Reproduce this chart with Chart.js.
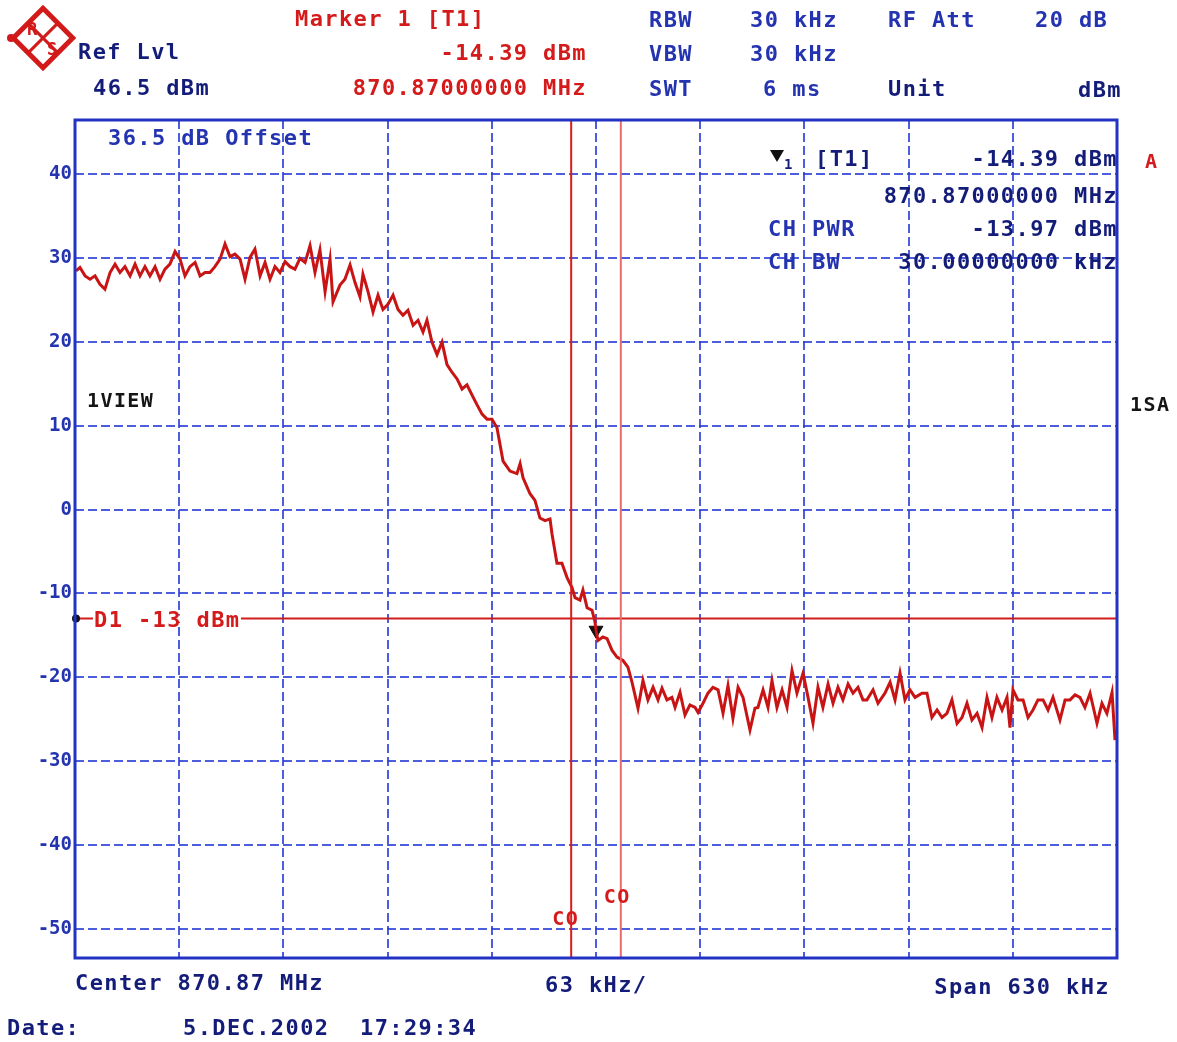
<!DOCTYPE html>
<html>
<head>
<meta charset="utf-8">
<title>Spectrum - 870.87 MHz</title>
<script src="https://cdn.jsdelivr.net/npm/chart.js@4.4.1/dist/chart.umd.min.js"></script>
<style>
  html, body { margin: 0; padding: 0; background: #fff; }
  #wrap { width: 1177px; height: 1042px; }
</style>
</head>
<body>
<div id="wrap"><canvas id="spec" width="1177" height="1042"></canvas></div>
<script>
// sweep settings
const centerMHz = 870.87;
const spanKHz = 630;
const divKHz = 63;
const refLevel = 46.5;
const rangeDb = 100;

// marker / channel power readout
const markerOffsetKHz = 0;
const markerLevel = -14.39;
const chPower = -13.97;
const chBwKHz = 30;
const d1Level = -13;

// axis ticks
const yTicks = [40, 30, 20, 10, 0, -10, -20, -30, -40, -50];
const xTicks = [-315, -252, -189, -126, -63, 0, 63, 126, 189, 252, 315];

// trace: offset from center (kHz) and level (dBm)
const freqOffsetKHz = [
  -314.4, -312.0, -308.9, -305.9, -302.9, -299.9, -296.9, -293.8, -290.8, -287.8,
  -284.8, -281.7, -278.7, -275.7, -272.7, -269.7, -266.6, -263.6, -260.6, -257.6,
  -254.5, -251.5, -248.5, -245.5, -242.4, -239.4, -236.4, -233.4, -230.4, -227.3,
  -224.3, -221.3, -218.3, -215.2, -212.2, -209.2, -206.2, -203.1, -200.1, -197.1,
  -194.1, -191.1, -188.0, -185.0, -182.0, -179.0, -175.9, -172.9, -169.9, -166.9,
  -163.8, -160.8, -159.0, -154.8, -151.8, -148.7, -145.7, -142.7, -140.9, -137.8,
  -134.8, -131.8, -128.8, -125.8, -122.7, -119.7, -116.7, -113.7, -110.6, -107.6,
  -104.6, -102.2, -99.2, -96.1, -93.1, -90.1, -87.1, -84.0, -81.0, -78.0,
  -75.0, -71.9, -68.9, -65.9, -62.9, -59.9, -56.2, -52.0, -47.8, -45.9,
  -44.1, -39.9, -36.9, -33.9, -30.8, -27.8, -26.6, -23.6, -20.6, -17.5,
  -14.5, -12.7, -9.7, -7.9, -5.4, -2.4, -0.6, 0.0, 1.2, 4.2,
  6.7, 9.7, 12.7, 16.3, 19.3, 21.8, 25.4, 28.4, 31.4, 34.5,
  37.5, 39.9, 42.9, 45.9, 47.8, 50.8, 53.8, 56.8, 59.9, 61.7,
  64.7, 67.7, 70.7, 73.8, 76.8, 79.8, 82.8, 85.9, 88.9, 93.1,
  96.1, 97.9, 101.0, 104.0, 106.4, 109.4, 112.5, 115.5, 118.5, 121.5,
  125.2, 128.2, 131.2, 134.2, 137.2, 140.3, 143.3, 146.3, 149.3, 152.4,
  155.4, 158.4, 161.4, 163.8, 167.5, 170.5, 174.7, 177.8, 180.8, 183.8,
  186.8, 189.8, 192.9, 197.1, 200.1, 203.1, 206.2, 209.2, 212.2, 215.2,
  218.3, 221.3, 224.3, 227.3, 230.4, 233.4, 236.4, 239.4, 242.4, 245.5,
  248.5, 250.3, 252.1, 255.1, 258.2, 261.2, 264.2, 267.2, 270.3, 273.3,
  276.3, 280.5, 283.6, 286.6, 289.6, 292.6, 295.6, 298.7, 302.9, 305.9,
  308.9, 312.0, 313.8
];
const levelDbm = [
  28.5, 28.9, 27.9, 27.5, 27.9, 26.9, 26.3, 28.3, 29.3, 28.3,
  29.0, 27.9, 29.3, 27.9, 29.0, 27.9, 29.0, 27.5, 28.7, 29.3,
  30.8, 29.9, 27.9, 29.0, 29.5, 27.9, 28.3, 28.3, 29.0, 29.9,
  31.7, 30.2, 30.5, 29.9, 27.5, 30.1, 31.1, 27.9, 29.5, 27.5,
  29.0, 28.3, 29.6, 29.0, 28.7, 30.0, 29.5, 31.5, 28.3, 31.0,
  26.0, 29.9, 24.8, 26.8, 27.5, 29.2, 27.1, 25.4, 28.1, 26.0,
  23.6, 25.6, 23.9, 24.5, 25.6, 23.9, 23.2, 23.8, 22.0, 22.6,
  21.2, 22.6, 20.0, 18.5, 20.0, 17.3, 16.4, 15.6, 14.4, 14.9,
  13.7, 12.5, 11.4, 10.8, 10.8, 9.8, 5.8, 4.6, 4.3, 5.5,
  3.8, 1.9, 1.1, -1.0, -1.3, -1.1, -2.9, -6.4, -6.4, -8.1,
  -9.3, -10.5, -10.8, -9.6, -11.7, -12.0, -13.4, -14.39, -15.6, -15.2,
  -15.4, -16.8, -17.6, -18.0, -18.8, -20.6, -23.7, -20.4, -22.7, -21.2,
  -22.7, -21.3, -22.7, -22.4, -23.6, -21.8, -24.5, -23.3, -23.6, -24.2,
  -23.1, -21.9, -21.2, -21.5, -24.3, -21.0, -24.9, -21.2, -22.4, -26.3,
  -23.7, -23.6, -21.5, -23.6, -20.4, -23.6, -21.5, -23.6, -19.2, -21.9,
  -19.5, -22.4, -25.5, -21.2, -23.6, -20.8, -23.1, -21.2, -22.7, -20.8,
  -21.9, -21.2, -22.7, -22.7, -21.5, -23.1, -21.9, -20.6, -22.7, -19.5,
  -22.7, -21.5, -22.4, -21.9, -21.9, -24.8, -23.9, -24.8, -24.3, -22.7,
  -25.5, -24.8, -23.1, -25.1, -24.3, -26.0, -22.4, -24.8, -22.4, -23.9,
  -22.4, -26.0, -21.5, -22.7, -22.7, -24.8, -23.9, -22.7, -22.7, -23.9,
  -22.4, -25.1, -22.7, -22.7, -22.1, -22.4, -23.6, -21.9, -25.5, -23.1,
  -24.3, -21.8, -27.5
];

const BLUE_GRID = 'rgba(45, 65, 215, 0.85)';
const BLUE_FRAME = '#2233c4';
const TRACE_RED = '#c81414';
const TXT_RED = '#d41a1a';
const TXT_NAVY = '#141c7a';
const TXT_BLUE = '#2433b0';
const MONO = '"DejaVu Sans Mono", "Liberation Mono", monospace';

const tracePoints = freqOffsetKHz.map((f, i) => ({ x: f, y: levelDbm[i] }));
const yMin = refLevel - rangeDb;
const halfSpan = spanKHz / 2;

function vline(x, color, width) {
    return {
        data: [{ x: x, y: yMin }, { x: x, y: refLevel }],
        borderColor: color,
        borderWidth: width,
        pointRadius: 0,
        fill: false,
    };
}

function text(ctx, str, x, y, color, align, size) {
    ctx.save();
    ctx.font = 'bold ' + (size || 22) + 'px ' + MONO;
    ctx.letterSpacing = '1.4px';
    ctx.fillStyle = color;
    ctx.textAlign = align || 'left';
    ctx.textBaseline = 'alphabetic';
    ctx.fillText(str, x, y);
    ctx.restore();
}

function drawLogo(ctx) {
    ctx.save();
    ctx.translate(43, 38);
    ctx.rotate(Math.PI / 4);
    ctx.strokeStyle = '#d21a1a';
    ctx.lineWidth = 5;
    ctx.strokeRect(-21, -21, 42, 42);
    ctx.lineWidth = 3;
    ctx.beginPath();
    ctx.moveTo(-21, 0); ctx.lineTo(21, 0);
    ctx.moveTo(0, -21); ctx.lineTo(0, 21);
    ctx.stroke();
    ctx.restore();
    ctx.save();
    ctx.fillStyle = '#d21a1a';
    ctx.font = 'bold 17px ' + MONO;
    ctx.fillText('R', 27, 35);
    ctx.fillText('S', 47, 55);
    ctx.beginPath();
    ctx.arc(11, 38, 4, 0, Math.PI * 2);
    ctx.fill();
    ctx.restore();
}

const annotations = {
    id: 'annotations',
    afterDatasetsDraw(chart) {
        const { ctx, chartArea, scales } = chart;
        // display line D1 label sits on the line itself
        const yD1 = scales.y.getPixelForValue(d1Level);
        ctx.save();
        ctx.fillStyle = '#fff';
        ctx.fillRect(chartArea.left + 18, yD1 - 3, 148, 6);
        ctx.fillStyle = '#111';
        ctx.beginPath();
        ctx.arc(chartArea.left + 1, yD1, 4, 0, Math.PI * 2);
        ctx.fill();
        ctx.restore();
        text(ctx, 'D1 ' + d1Level + ' dBm', chartArea.left + 19, yD1 + 8, TXT_RED);

        // channel edge labels
        const coL = scales.x.getPixelForValue(-chBwKHz / 2);
        const coR = scales.x.getPixelForValue(chBwKHz / 2);
        text(ctx, 'CO', coL - 19, 925, TXT_RED, 'left', 20);
        text(ctx, 'CO', coR - 17, 903, TXT_RED, 'left', 20);
    },
    afterDraw(chart) {
        const { ctx, chartArea } = chart;
        ctx.save();
        ctx.strokeStyle = BLUE_FRAME;
        ctx.lineWidth = 3;
        ctx.strokeRect(chartArea.left, chartArea.top, chartArea.right - chartArea.left, chartArea.bottom - chartArea.top);
        ctx.restore();

        drawLogo(ctx);

        // header block
        text(ctx, 'Marker 1 [T1]', 295, 26, TXT_RED);
        text(ctx, 'Ref Lvl', 78, 59, TXT_NAVY);
        text(ctx, markerLevel.toFixed(2) + ' dBm', 587, 60, TXT_RED, 'right');
        text(ctx, refLevel.toFixed(1) + ' dBm', 93, 95, TXT_NAVY);
        text(ctx, (centerMHz + markerOffsetKHz / 1000).toFixed(8) + ' MHz', 587, 95, TXT_RED, 'right');
        text(ctx, 'RBW', 649, 27, TXT_BLUE);
        text(ctx, '30 kHz', 750, 27, TXT_BLUE);
        text(ctx, 'RF Att', 888, 27, TXT_BLUE);
        text(ctx, '20 dB', 1035, 27, TXT_BLUE);
        text(ctx, 'VBW', 649, 61, TXT_BLUE);
        text(ctx, '30 kHz', 750, 61, TXT_BLUE);
        text(ctx, 'SWT', 649, 96, TXT_BLUE);
        text(ctx, '6 ms', 763, 96, TXT_BLUE);
        text(ctx, 'Unit', 888, 96, TXT_NAVY);
        text(ctx, 'dBm', 1122, 97, TXT_NAVY, 'right');

        // readout inside the screen
        text(ctx, '36.5 dB Offset', 108, 145, TXT_BLUE);
        ctx.save();
        ctx.fillStyle = '#111';
        ctx.beginPath();
        ctx.moveTo(770, 150); ctx.lineTo(784, 150); ctx.lineTo(777, 162);
        ctx.closePath();
        ctx.fill();
        ctx.restore();
        text(ctx, '1', 784, 169, TXT_NAVY, 'left', 14);
        text(ctx, '[T1]', 815, 166, TXT_NAVY);
        text(ctx, markerLevel.toFixed(2) + ' dBm', 1118, 166, TXT_NAVY, 'right');
        text(ctx, (centerMHz + markerOffsetKHz / 1000).toFixed(8) + ' MHz', 1118, 203, TXT_NAVY, 'right');
        text(ctx, 'CH PWR', 768, 236, TXT_BLUE);
        text(ctx, chPower.toFixed(2) + ' dBm', 1118, 236, TXT_NAVY, 'right');
        text(ctx, 'CH BW', 768, 269, TXT_BLUE);
        text(ctx, chBwKHz.toFixed(8) + ' kHz', 1118, 269, TXT_NAVY, 'right');
        text(ctx, 'A', 1145, 168, TXT_RED, 'left', 20);
        text(ctx, '1VIEW', 87, 407, '#151515', 'left', 20);
        text(ctx, '1SA', 1130, 411, '#151515', 'left', 20);

        // footer
        text(ctx, 'Center ' + centerMHz.toFixed(2) + ' MHz', 75, 990, TXT_NAVY);
        text(ctx, divKHz + ' kHz/', 545, 992, TXT_NAVY);
        text(ctx, 'Span ' + spanKHz + ' kHz', 1110, 994, TXT_NAVY, 'right');
        text(ctx, 'Date:', 7, 1035, TXT_NAVY);
        text(ctx, '5.DEC.2002', 183, 1035, TXT_NAVY);
        text(ctx, '17:29:34', 360, 1035, TXT_NAVY);
    }
};

const ctx = document.getElementById('spec').getContext('2d');
const specChart = new Chart(ctx, {
    type: 'line',
    data: {
        datasets: [
            vline(-chBwKHz / 2, '#d81c1c', 2),
            vline(chBwKHz / 2, '#ec6a6a', 2),
            {
                data: [{ x: -halfSpan, y: d1Level }, { x: halfSpan, y: d1Level }],
                borderColor: '#d01c1c',
                borderWidth: 2,
                pointRadius: 0,
            },
            {
                data: tracePoints,
                borderColor: TRACE_RED,
                borderWidth: 3,
                pointRadius: 0,
                tension: 0,
            },
            {
                type: 'scatter',
                data: [{ x: markerOffsetKHz, y: markerLevel }],
                pointStyle: 'triangle',
                rotation: 180,
                radius: 8,
                backgroundColor: '#111',
                borderColor: '#111',
            }
        ]
    },
    options: {
        responsive: false,
        animation: false,
        layout: { padding: { top: 120, right: 60, bottom: 84, left: 0 } },
        plugins: { legend: { display: false }, tooltip: { enabled: false } },
        scales: {
            x: {
                type: 'linear',
                min: -halfSpan,
                max: halfSpan,
                afterBuildTicks: axis => { axis.ticks = xTicks.map(v => ({ value: v })); },
                afterFit: scale => { scale.height = 0; },
                ticks: { display: false },
                grid: { color: BLUE_GRID, lineWidth: 2, drawTicks: false },
                border: { display: false, dash: [9, 4] },
            },
            y: {
                min: yMin,
                max: refLevel,
                afterBuildTicks: axis => { axis.ticks = yTicks.map(v => ({ value: v })); },
                afterFit: scale => { scale.width = 75; },
                ticks: {
                    color: TXT_BLUE,
                    padding: 3,
                    font: { family: MONO, size: 19, weight: 'bold' },
                },
                grid: { color: BLUE_GRID, lineWidth: 2, drawTicks: false },
                border: { display: false, dash: [9, 4] },
            }
        }
    },
    plugins: [annotations]
});
</script>
</body>
</html>
